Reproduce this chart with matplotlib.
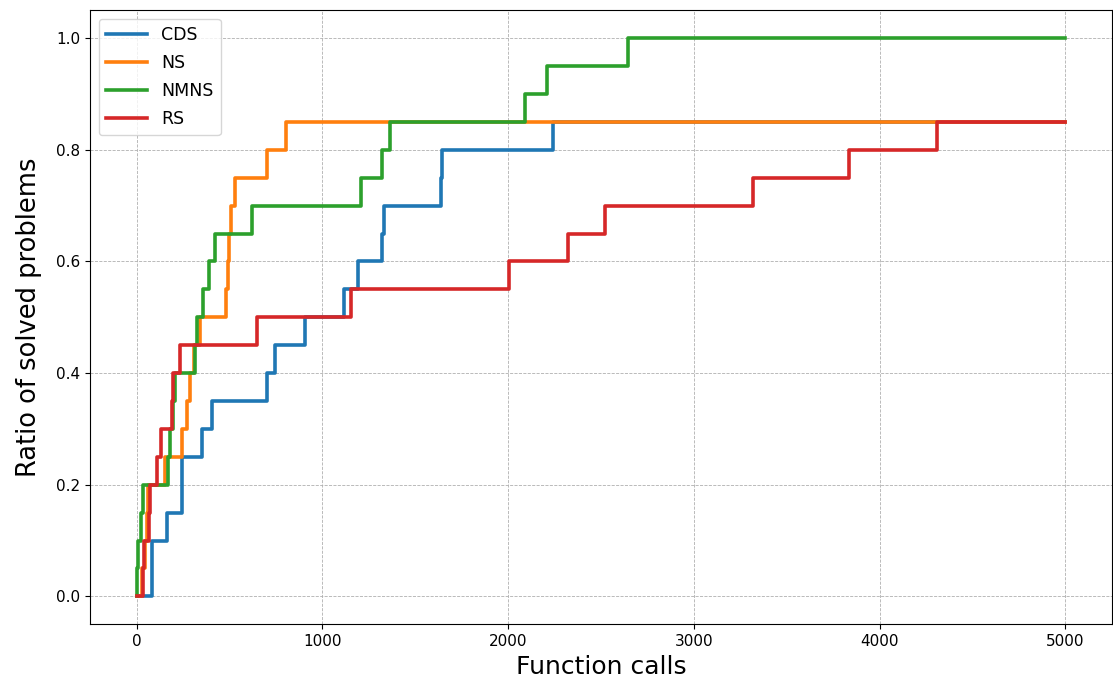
import matplotlib
matplotlib.use("Agg")
import matplotlib.pyplot as plt

# function calls at which the ratio of solved problems steps up
cds_x = [0, 84, 164, 245, 352, 405, 700, 744, 905, 1119, 1190, 1320, 1330, 1640, 1645, 2243, 5000]
cds_y = [0, 0.10, 0.15, 0.25, 0.30, 0.35, 0.40, 0.45, 0.50, 0.55, 0.60, 0.65, 0.70, 0.75, 0.80, 0.85, 0.85]

ns_x = [0, 30, 45, 55, 60, 155, 245, 271, 289, 310, 343, 480, 492, 500, 510, 530, 700, 806, 5000]
ns_y = [0, 0.05, 0.10, 0.15, 0.20, 0.25, 0.30, 0.35, 0.40, 0.45, 0.50, 0.55, 0.60, 0.65, 0.70, 0.75, 0.80, 0.85, 0.85]

nmns_x = [0, 0, 10, 25, 35, 170, 180, 195, 205, 315, 325, 360, 392, 423, 619, 1208, 1320, 1363, 2093, 2211, 2644, 5000]
nmns_y = [0, 0.05, 0.10, 0.15, 0.20, 0.25, 0.30, 0.35, 0.40, 0.45, 0.50, 0.55, 0.60, 0.65, 0.70, 0.75, 0.80, 0.85, 0.90, 0.95, 1.0, 1.0]

rs_x = [0, 35, 40, 65, 70, 112, 132, 191, 198, 235, 646, 1154, 2002, 2323, 2521, 3319, 3833, 4309, 5000]
rs_y = [0, 0.05, 0.10, 0.15, 0.20, 0.25, 0.30, 0.35, 0.40, 0.45, 0.50, 0.55, 0.60, 0.65, 0.70, 0.75, 0.80, 0.85, 0.85]

fig, ax = plt.subplots(figsize=(11.13, 6.89), dpi=100)
fig.subplots_adjust(left=0.081, right=0.999, top=0.985, bottom=0.094)

ax.step(cds_x, cds_y, where="post", lw=2.6, color="#1f77b4", label="CDS")
ax.step(ns_x, ns_y, where="post", lw=2.6, color="#ff7f0e", label="NS")
ax.step(nmns_x, nmns_y, where="post", lw=2.6, color="#2ca02c", label="NMNS")
ax.step(rs_x, rs_y, where="post", lw=2.6, color="#d62728", label="RS")

ax.tick_params(labelsize=11)
ax.set_xlabel("Function calls", fontsize=18)
ax.set_ylabel("Ratio of solved problems", fontsize=18.5, labelpad=10)
ax.grid(True, linestyle="--", linewidth=0.6, color="#b0b0b0")
ax.legend(loc="upper left", fontsize=12.5, handlelength=2.4, labelspacing=0.58)

fig.savefig("out.png")
